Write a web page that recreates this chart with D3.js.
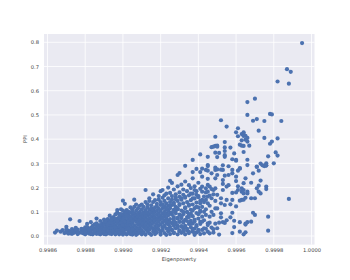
<!DOCTYPE html>
<html><head><meta charset="utf-8">
<script src="https://cdn.jsdelivr.net/npm/d3@7/dist/d3.min.js"></script>
<style>html,body{margin:0;padding:0;background:#fff}svg{display:block}</style>
</head><body><svg id="c" width="350" height="280"></svg>
<script>
const xTicks=[0.9986,0.9988,0.9990,0.9992,0.9994,0.9996,0.9998,1.0000];
const yTicks=[0,0.1,0.2,0.3,0.4,0.5,0.6,0.7,0.8];
const xLabel="Eigenpoverty", yLabel="PPI";
const topPoints=[[.99995,.797],[.99987,.689],[.99989,.678],[.99982,.638],[.99988,.629],[.99970,.567],[.99966,.553],[.99966,.50],[.99978,.504],[.99979,.502],[.99952,.478],[.99955,.452],[.99969,.476],[.99971,.483],[.99975,.475],[.99984,.475],[.99961,.445],[.99960,.428],[.99972,.435],[.99964,.428],[.99963,.421],[.99964,.421],[.99965,.414],[.99964,.413],[.99966,.405],[.99965,.398],[.99966,.39],[.99963,.395],[.99961,.412],[.99949,.41],[.99975,.405],[.99982,.403],[.99979,.39],[.99978,.381],[.99954,.388],[.99967,.373],[.99962,.377],[.99963,.373],[.99964,.372],[.99954,.366],[.99957,.365],[.99947,.367],[.99948,.369],[.99949,.372],[.9995,.373],[.9995,.369],[.99954,.351],[.99964,.347],[.99949,.344],[.99951,.343],[.99959,.341],[.99941,.337],[.99945,.327],[.9995,.326],[.99954,.327],[.99954,.334],[.99981,.345],[.99982,.332],[.99977,.329],[.99958,.317],[.9996,.315],[.9996,.311],[.99966,.315],[.9998,.3],[.99973,.299],[.99976,.3],[.99976,.292],[.99975,.289],[.99971,.285],[.99974,.292],[.99966,.293],[.99953,.292],[.99956,.288],[.99949,.282],[.99945,.289],[.99942,.278],[.99962,.278],[.99952,.274],[.9995,.275],[.99933,.29],[.99937,.314],[.99939,.277],[.99937,.264],[.99941,.264],[.99944,.273],[.99945,.293],[.9993,.26],[.99929,.252],[.99926,.219]];
const midPoints=[[.99988,.153],[.99977,.08],[.99977,.022],[.99969,.096],[.9997,.087],[.99976,.204],[.99976,.194],[.99973,.229],[.99973,.176],[.99972,.208],[.99971,.197],[.99972,.183],[.99968,.22],[.99965,.238],[.99964,.218],[.99961,.205],[.99963,.197],[.99963,.183],[.99961,.19],[.9996,.18],[.99958,.178],[.99964,.19],[.99966,.183],[.99964,.176],[.99966,.176],[.99968,.156],[.9997,.156],[.99965,.158],[.99963,.149],[.99962,.146],[.99964,.15],[.9996,.122],[.99958,.096],[.99957,.077],[.99955,.065],[.99953,.057],[.99952,.077],[.99959,.063],[.99962,.057],[.99968,.059],[.99966,.057],[.99965,.051],[.99965,.047],[.99959,.037],[.99958,.012],[.99962,.018],[.99964,.007],[.99965,.015],[.99954,.054],[.99951,.055],[.99949,.051],[.9995,.032],[.99948,.028],[.99948,.014],[.99951,.006],[.99971,.287],[.99972,.27],[.99969,.259],[.99975,.291],[.99976,.291],[.99962,.28],[.99961,.27],[.99958,.273],[.99958,.259],[.99956,.252],[.99954,.249],[.9996,.245],[.9996,.227],[.99953,.231],[.99953,.215],[.99955,.204],[.99956,.21],[.99949,.273],[.99947,.259],[.99953,.273],[.99945,.27],[.99942,.245],[.99945,.236],[.9995,.252],[.99949,.238],[.99953,.19],[.99949,.197],[.99948,.19],[.99958,.149],[.99957,.131],[.99954,.128],[.99952,.156],[.9995,.17],[.99955,.149],[.99952,.135],[.99949,.145],[.99947,.156],[.99945,.135],[.99949,.114],[.9995,.114],[.99952,.094],[.99946,.08],[.99944,.087],[.99948,.087],[.99943,.1],[.99945,.052],[.99943,.032],[.99945,.045],[.99942,.025],[.99945,.018],[.99943,.011],[.99946,.011],[.99942,.059],[.99942,.204],[.99944,.197],[.99945,.211],[.99946,.204],[.99947,.194],[.99942,.183],[.99944,.18],[.99945,.183],[.99948,.172],[.99943,.163],[.99945,.163],[.99946,.167],[.99942,.149],[.99944,.149]];
const edgePoints=[[.99872,.069],[.99877,.062],[.99897,.107],[.99899,.11],[.999,.146],[.99901,.133],[.99906,.15],[.99912,.19],[.99914,.156],[.99916,.172],[.9992,.185],[.99921,.19],[.99924,.2],[.99925,.228]];
const columnX=[.99864,.99865,.99868,.99869,.9987,.99871,.99872,.99873,.99874,.99875,.99876,.99877,.99878,.99879,.9988,.99881,.99882,.99883,.99884,.99885,.99886,.99887,.99888,.99889,.9989,.99891,.99892,.99893,.99894,.99895,.99896,.99897,.99898,.99899,.999,.99901,.99902,.99903,.99904,.99905,.99906,.99907,.99908,.99909,.9991,.99911,.99912,.99913,.99914,.99915,.99916,.99917,.99918,.99919,.9992,.99921,.99922,.99923,.99924,.99925,.99926,.99927,.99928,.99929,.9993,.99931,.99932,.99933,.99934,.99935,.99936,.99937,.99938,.99939,.9994,.99941];
const columnY=[
[.014],[.022],[.024],[.012],[.038,.016],[.01,.022],[.017],[.029,.009],[.013,.021],[.034,.017],[.008,.026],[.014],[.022,.03],[.011,.019],[.036,.007,.024],[.05,.015,.029],[.021,.01],[.057,.034,.017],[.007,.026,.042],[.014,.031,.048],[.072,.021,.038,.009],[.017,.044,.028],[.062,.007,.035,.024],[.012,.05,.029,.041],[.068,.019,.057,.008],[.033,.046,.014,.024],[.07,.011,.039,.055,.028],[.084,.018,.047,.033,.063],[.008,.058,.025,.041,.074],[.078,.015,.052,.034,.066],[.023,.044,.007,.06,.089],[.036,.072,.015,.054,.098],[.09,.028,.007,.063,.047],[.02,.079,.04,.068,.055,.012],[.105,.033,.006,.058,.088,.075,.018],[.026,.05,.096,.012,.069,.083,.04],[.107,.007,.06,.035,.079,.092,.047],[.021,.07,.1,.052,.012,.087,.04],[.118,.03,.062,.008,.079,.046,.097],[.11,.017,.054,.088,.036,.073,.006,.102],[.025,.066,.12,.044,.094,.012,.08],[.13,.058,.005,.036,.104,.072,.019,.087],[.048,.115,.026,.092,.063,.01,.078],[.125,.016,.053,.084,.033,.1,.068,.042],[.007,.11,.06,.024,.09,.075,.043,.13],[.037,.098,.014,.068,.12,.053,.083],[.14,.028,.091,.006,.061,.107,.044,.076],[.118,.02,.052,.084,.035,.097,.067,.131],[.011,.073,.145,.043,.108,.057,.026,.09],[.127,.035,.005,.08,.1,.063,.047,.115],[.018,.14,.071,.054,.094,.03,.108,.086],[.148,.041,.008,.118,.077,.062,.024,.1],[.133,.014,.088,.051,.105,.033,.069,.122],[.165,.027,.06,.095,.042,.113,.078,.15],[.006,.128,.048,.085,.018,.07,.104,.14],[.036,.158,.115,.056,.092,.024,.075,.13],[.168,.012,.1,.064,.145,.042,.083,.122],[.03,.175,.054,.11,.074,.135,.005,.094],[.155,.02,.086,.125,.047,.063,.105],[.178,.038,.115,.008,.07,.14,.096],[.165,.053,.128,.025,.088,.15],[.014,.108,.192,.062,.078,.137,.042],[.032,.172,.094,.12,.055,.152],[.007,.205,.072,.145,.043,.11],[.18,.023,.088,.128,.058,.162],[.212,.04,.105,.074,.15,.013],[.135,.192,.055,.03,.09,.17],[.007,.118,.225,.067,.158,.042],[.098,.185,.022,.14,.078],[.05,.21,.125,.168,.012,.088],[.148,.036,.198,.063,.108],[.238,.175,.018,.082,.13,.052],[.005,.115,.205,.155,.068,.03],[.185,.095,.045,.138,.014],[.22,.072,.165,.025,.118],[.058,.195,.1,.008,.145],[.178,.035,.128,.085,.21]
];
const fillLeft=[[.99867,.018],[.9987,.027],[.99872,.011],[.99873,.02],[.99875,.024],[.99876,.012],[.99878,.014],[.99879,.027],[.9988,.018],[.99881,.037],[.99882,.026],[.99883,.008],[.99884,.035],[.99885,.022],[.99886,.052],[.99887,.01],[.99888,.045],[.99888,.016],[.99889,.034],[.9989,.03],[.9989,.045],[.99891,.06],[.99891,.007],[.99892,.021],[.99892,.048],[.99893,.01],[.99893,.056],[.99894,.033],[.99894,.067],[.99895,.022],[.99895,.045],[.99896,.035],[.99896,.013],[.99896,.07],[.99897,.024],[.99897,.062],[.99898,.016],[.99898,.038],[.99898,.078],[.99899,.03],[.99899,.09],[.999,.025],[.999,.067],[.999,.045],[.99901,.058],[.99901,.076],[.99902,.027],[.99902,.083],[.99903,.03],[.99903,.06],[.99904,.02],[.99904,.069],[.99905,.027],[.99905,.062]];
const fillRight=[[.99921,.072],[.99922,.04],[.99923,.115],[.99923,.06],[.99924,.03],[.99924,.088],[.99925,.055],[.99925,.125],[.99926,.098],[.99926,.024],[.99927,.07],[.99927,.13],[.99927,.012],[.99928,.05],[.99928,.105],[.99928,.16],[.99929,.035],[.99929,.075],[.99929,.115],[.9993,.02],[.9993,.06],[.9993,.132],[.99931,.04],[.99931,.082],[.99931,.155],[.99932,.1],[.99932,.018],[.99932,.06],[.99933,.038],[.99933,.115],[.99933,.162],[.99934,.062],[.99934,.1],[.99934,.03],[.99935,.018],[.99935,.078],[.99935,.13],[.99936,.05],[.99936,.175],[.99936,.092],[.99937,.105],[.99937,.03],[.99937,.155],[.99938,.06],[.99938,.012],[.99938,.19],[.99939,.04],[.99939,.12],[.99939,.17],[.9994,.09],[.9994,.02],[.9994,.16],[.99941,.05],[.99941,.105],[.99941,.135],[.99942,.08],[.99942,.12],[.99943,.065],[.99943,.14],[.99944,.03],[.99944,.11],[.99946,.055],[.99946,.125],[.99947,.035],[.99947,.1]];
const columnPoints=columnX.flatMap((u,i)=>columnY[i].map(v=>[u,v]));
const points=[...columnPoints,...fillLeft,...fillRight,...edgePoints,...midPoints,...topPoints];

const svg=d3.select("#c");
const plot={left:44,right:314.5,top:34,bottom:244.6};
const x=d3.scaleLinear().domain([0.9986,1.0]).range([47.5,311.5]);
const y=d3.scaleLinear().domain([0,0.8]).range([236,42.3]);
svg.append("rect").attr("x",plot.left).attr("y",plot.top).attr("width",plot.right-plot.left).attr("height",plot.bottom-plot.top).attr("fill","#eaeaf2");
const grid=svg.append("g").attr("stroke","#fff").attr("stroke-width",0.8);
grid.selectAll(".v").data(xTicks).join("line").attr("x1",d=>x(d)).attr("x2",d=>x(d)).attr("y1",plot.top).attr("y2",plot.bottom);
grid.selectAll(".h").data(yTicks).join("line").attr("y1",d=>y(d)).attr("y2",d=>y(d)).attr("x1",plot.left).attr("x2",plot.right);
const ax=svg.append("g").attr("transform",`translate(0,${plot.bottom})`).call(d3.axisBottom(x).tickValues(xTicks).tickSize(0).tickPadding(4).tickFormat(d3.format(".4f")));
const ay=svg.append("g").attr("transform",`translate(${plot.left},0)`).call(d3.axisLeft(y).tickValues(yTicks).tickSize(0).tickPadding(5).tickFormat(d3.format(".1f")));
[ax,ay].forEach(a=>{a.select(".domain").remove();a.selectAll("text").attr("font-family","DejaVu Sans").attr("font-size",5.2).attr("fill","#444");});
svg.append("g").selectAll("circle").data(points).join("circle").attr("cx",d=>x(d[0])).attr("cy",d=>y(d[1])).attr("r",2.1).attr("fill","#4c72b0");
svg.append("text").attr("x",179).attr("y",261).attr("text-anchor","middle").attr("font-family","DejaVu Sans").attr("font-size",5.2).attr("fill","#444").text(xLabel);
svg.append("text").attr("transform","translate(27,139) rotate(-90)").attr("text-anchor","middle").attr("font-family","DejaVu Sans").attr("font-size",5.2).attr("fill","#444").text(yLabel);
</script></body></html>
